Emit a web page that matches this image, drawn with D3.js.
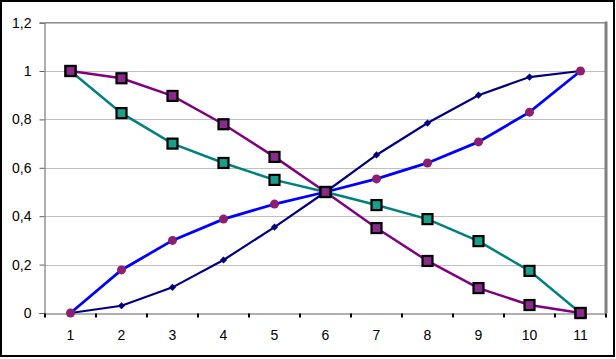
<!DOCTYPE html>
<html><head><meta charset="utf-8">
<script src="https://cdn.jsdelivr.net/npm/d3@7"></script>
<style>body{margin:0;background:#fff}svg{display:block}text{font-family:"Liberation Sans",Arial,sans-serif;font-size:14px;fill:#000}</style>
</head><body><svg id="c" width="616" height="359"></svg>
<script>
const categories = ["1","2","3","4","5","6","7","8","9","10","11"];
const yTicks = [0,0.2,0.4,0.6,0.8,1,1.2];
const navyValues   = [0,0.03,0.106,0.219,0.355,0.5,0.653,0.785,0.9,0.975,1];
const blueValues   = [0,0.178,0.30,0.388,0.45,0.5,0.554,0.62,0.707,0.83,1];
const tealValues   = [1,0.826,0.70,0.62,0.55,0.5,0.446,0.388,0.297,0.174,0];
const purpleValues = [1,0.97,0.897,0.78,0.645,0.5,0.351,0.215,0.103,0.033,0];

const svg = d3.select("#c");
svg.append("rect").attr("x",1).attr("y",1).attr("width",613).attr("height",355)
  .attr("fill","#fff").attr("stroke","#000").attr("stroke-width",2);

const L=45, R=606, T=22.6, B=313;
const x = d3.scaleBand().domain(categories).range([L,R]);
const y = d3.scaleLinear().domain([0,1.2]).range([B,T]);
const fmt = d => String(+d.toFixed(1)).replace(".",",");

// gridlines
svg.append("g").selectAll("line").data(yTicks.filter(d=>d>0)).join("line")
  .attr("x1",L).attr("x2",R).attr("y1",d=>Math.round(y(d))+0.5).attr("y2",d=>Math.round(y(d))+0.5)
  .attr("stroke","#c0c0c0").attr("stroke-width",1);
svg.append("line").attr("x1",L).attr("x2",R).attr("y1",Math.round(T)-0.5).attr("y2",Math.round(T)-0.5).attr("stroke","#909090").attr("stroke-width",1);
// right border
svg.append("line").attr("x1",R).attr("x2",R).attr("y1",T-1).attr("y2",B).attr("stroke","#808080").attr("stroke-width",3);

// y axis
const ya = svg.append("g").attr("transform",`translate(${L-0.5},0)`)
  .call(d3.axisLeft(y).tickValues(yTicks).tickFormat(fmt).tickSize(5).tickPadding(8));
ya.select(".domain").attr("stroke","#606060");
ya.selectAll(".tick line").attr("stroke","#606060");
ya.selectAll("text").style("font-size","14px").attr("fill","#000");

// x axis
const xa = svg.append("g").attr("transform",`translate(0,${B+0.5})`)
  .call(d3.axisBottom(x).tickSize(0).tickPadding(17));
xa.select(".domain").attr("stroke","#606060");
xa.selectAll("text").style("font-size","14px").attr("fill","#000");
const bounds = categories.map(c=>x(c)).concat([R]);
xa.selectAll(".bt").data(bounds).join("line").attr("class","bt")
  .attr("x1",d=>Math.round(d)).attr("x2",d=>Math.round(d)).attr("y1",0).attr("y2",4).attr("stroke","#000").attr("stroke-width",2);

const cx = i=>x(categories[i])+x.bandwidth()/2;
const line = d3.line().x((d,i)=>cx(i)).y(d=>y(d));

function series(vals,color,width){
  svg.append("path").datum(vals).attr("d",line).attr("fill","none").attr("stroke",color).attr("stroke-width",width);
}
series(navyValues,"#000080",2.2);
series(blueValues,"#0000ff",2.8);
series(tealValues,"#008080",2.5);
series(purpleValues,"#800080",2.5);

// markers
svg.append("g").selectAll("path").data(navyValues).join("path")
  .attr("d",d3.symbol(d3.symbolSquare,26)())
  .attr("transform",(d,i)=>`translate(${cx(i)},${y(d)}) rotate(45)`).attr("fill","#000080");
svg.append("g").selectAll("circle").data(blueValues).join("circle")
  .attr("cx",(d,i)=>cx(i)).attr("cy",d=>y(d)).attr("r",4.5).attr("fill","#8c1f6e");
svg.append("g").selectAll("rect").data(tealValues).join("rect")
  .attr("x",(d,i)=>cx(i)-5).attr("y",d=>y(d)-5).attr("width",10).attr("height",10)
  .attr("fill","#1aa08a").attr("stroke","#000").attr("stroke-width",2.2);
svg.append("g").selectAll("rect").data(purpleValues).join("rect")
  .attr("x",(d,i)=>cx(i)-5).attr("y",d=>y(d)-5).attr("width",10).attr("height",10)
  .attr("fill","#8a2a8a").attr("stroke","#000").attr("stroke-width",2.2);
</script></body></html>
